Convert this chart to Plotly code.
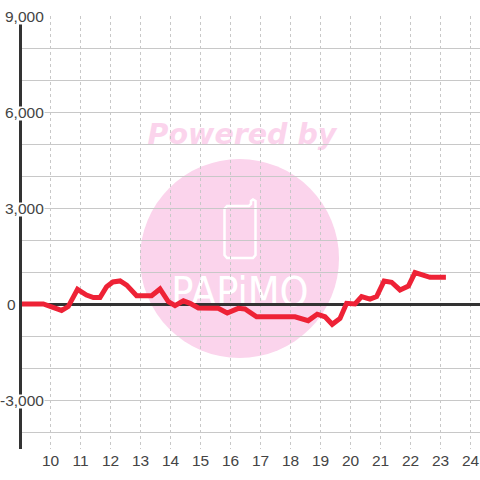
import plotly.graph_objects as go

hours = [8.93, 9.76, 10.37, 10.59, 10.9, 11.2, 11.43, 11.65, 11.87, 12.08, 12.32, 12.54, 12.87, 13.37,
         13.65, 13.93, 14.15, 14.43, 14.65, 14.93, 15.59, 15.89, 16.26, 16.48, 16.87, 18.15, 18.59,
         18.89, 19.15, 19.39, 19.65, 19.87, 20.15, 20.37, 20.65, 20.87, 21.12, 21.37, 21.65, 21.93,
         22.15, 22.65, 23.18]
values = [0, 0, -200, -80, 460, 280, 200, 200, 540, 690, 720, 590, 260, 260,
          470, 70, -50, 100, 20, -125, -135, -280, -135, -155, -400, -400, -520,
          -320, -400, -635, -450, 20, 0, 230, 150, 230, 720, 680, 440, 560,
          980, 835, 835]
x_ticks = list(range(10, 25))
y_labels = [9000, 6000, 3000, 0, -3000]

W, H = 480, 480
L, R, T, B = 22, 480, 16, 449
PINK = "#FBD4EC"

def px(x):
    return (x - L) / (R - L)

def py(y):
    return (B - y) / (B - T)

fig = go.Figure(go.Scatter(x=hours, y=values, mode="lines", cliponaxis=False,
                           line=dict(color="#EE2236", width=5), hoverinfo="skip"))

shapes = [
    dict(type="circle", xref="paper", yref="paper", layer="below", line_width=0, fillcolor=PINK,
         x0=px(140), x1=px(339), y0=py(358), y1=py(159)),
    dict(type="rect", xref="paper", yref="paper", layer="below", line_width=0, fillcolor="rgba(0,0,0,0)",
         x0=px(140), x1=px(344), y0=py(148), y1=py(116),
         label=dict(text="<b><i>Powered by</i></b>", font=dict(family="DejaVu Sans", size=28.5, color=PINK),
                    textposition="middle center")),
    dict(type="rect", xref="paper", yref="paper", layer="below", line_width=0, fillcolor="rgba(0,0,0,0)",
         x0=px(160), x1=px(320), y0=py(306), y1=py(272),
         label=dict(text="PAPiMO", font=dict(family="DejaVu Sans Condensed", size=41, color="white"),
                    textposition="middle center")),
]
# phone outline of the watermark
pts = [(227, 206), (249, 206), (251, 204), (251, 201), (253, 199.5), (255.5, 201), (255.5, 255),
       (253, 258), (227, 258), (224.5, 255), (224.5, 209)]
path = "M " + " L ".join(f"{px(a):.5f},{py(b):.5f}" for a, b in pts) + " Z"
shapes.append(dict(type="path", xref="paper", yref="paper", layer="below", path=path,
                   line=dict(color="white", width=2.5)))

annotations = []
for v in y_labels:
    if v != 0:
        # white plate behind the label, hiding the axis and gridline
        annotations.append(dict(
            x=0, xref="paper", y=v, yref="y", text=" ", showarrow=False,
            xanchor="right", yanchor="middle", xshift=23, yshift=-1.5,
            bgcolor="white", borderpad=0, width=43, height=13,
            font=dict(family="Liberation Sans", size=10)))
    annotations.append(dict(
        x=0, xref="paper", y=v, yref="y", text=f"{v:,}", showarrow=False,
        xanchor="right", yanchor="middle", align="right",
        xshift=-5 if v == 0 else 23, font=dict(family="Liberation Sans", size=15.5, color="#444444"),
        borderpad=0))

fig.update_layout(
    width=W, height=H, showlegend=False, paper_bgcolor="rgba(255,255,255,0)", plot_bgcolor="rgba(255,255,255,0)",
    margin=dict(l=L, r=W - R, t=T, b=H - B, pad=0, autoexpand=False),
    shapes=shapes, annotations=annotations,
    xaxis=dict(range=[9.05, 9.05 + (R - L) / 30], tickvals=x_ticks, ticktext=[str(t) for t in x_ticks],
               showgrid=True, gridcolor="#C8C8C8", gridwidth=1, griddash="3px,3px",
               zeroline=False, showline=False, ticks="", ticklen=0,
               tickfont=dict(family="Liberation Sans", size=15.5, color="#444444"), tickangle=0),
    yaxis=dict(range=[-4531.25, 9000], dtick=1000, tick0=0, showticklabels=False,
               showgrid=True, gridcolor="#C8C8C8", gridwidth=1,
               zeroline=True, zerolinecolor="#333333", zerolinewidth=3,
               showline=True, linecolor="#333333", linewidth=3, ticks=""),
)
fig.write_html("out.html", config=dict(displayModeBar=False),
               post_script="document.body.style.margin='0';document.documentElement.style.overflow='hidden';")
